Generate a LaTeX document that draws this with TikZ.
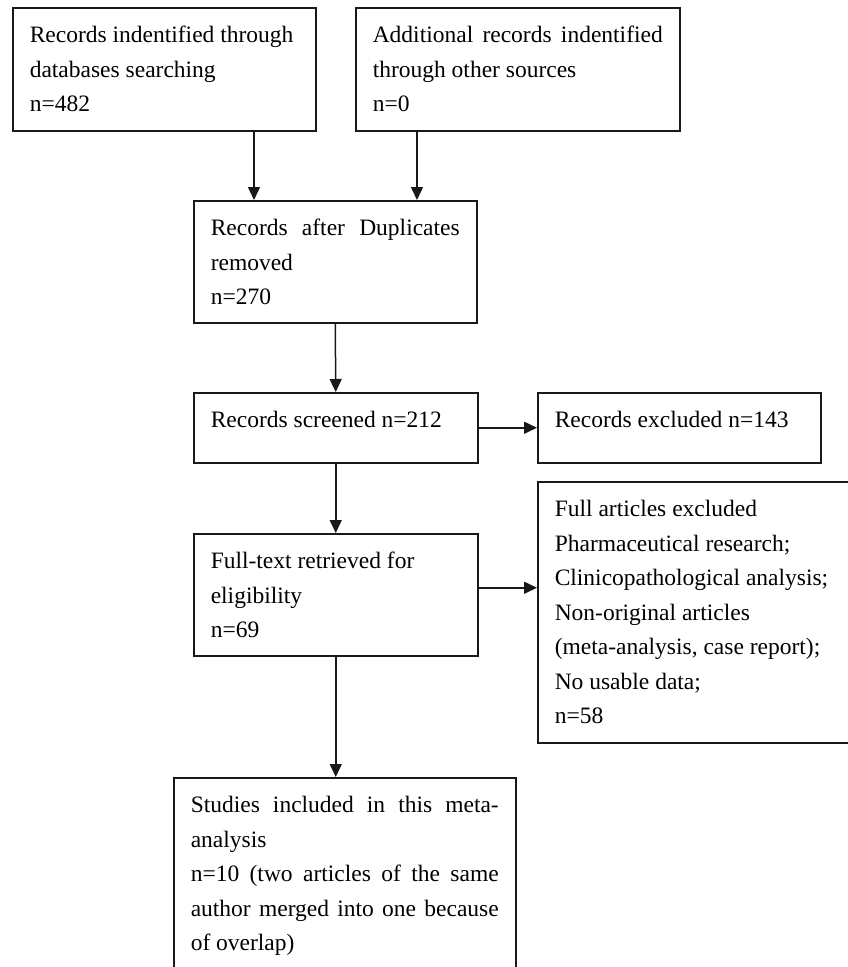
\documentclass[tikz,border=0pt]{standalone}
\usepackage{fontspec}
\setmainfont{Liberation Serif}
\usetikzlibrary{arrows.meta}
\tikzstyle{flowbox}=[draw=black!90, line width=1.5bp, anchor=north west, inner xsep=17bp, inner ysep=0pt, font=\fontsize{23.5bp}{34.5bp}\selectfont]
\tikzstyle{flowarrow}=[draw=black!90, line width=1.5bp, -{Triangle[length=13bp,width=12bp]}]
\newcommand{\boxtext}[3]{\parbox[c][#1][t]{#2}{\rule{0pt}{35bp}#3}}
\begin{document}
\begin{tikzpicture}[x=1bp, y=-1bp]

   \useasboundingbox (0,0) rectangle (848,967);
   \clip (0,0) rectangle (848,967);
   \fill[white] (0,0) rectangle (848,967);

    % identification
    \node[flowbox] (db) at (12,7) {\boxtext{123bp}{269bp}{Records indentified through\\ databases searching\\ n=482}};
    \node[flowbox] (other) at (355,7) {\boxtext{123bp}{290bp}{Additional records indentified\linebreak through other sources\\ n=0}};

    % screening
    \node[flowbox] (dup) at (193,200) {\boxtext{122bp}{249bp}{Records after Duplicates\linebreak removed\\ n=270}};
    \node[flowbox] (screen) at (193,392) {\boxtext{70bp}{250bp}{Records screened n=212}};
    \node[flowbox] (excl) at (537,392) {\boxtext{70bp}{249bp}{Records excluded n=143}};

    % eligibility
    \node[flowbox] (full) at (193,533) {\boxtext{122bp}{250bp}{Full-text retrieved for\\ eligibility\\ n=69}};
    \node[flowbox] (fullex) at (537,481) {\boxtext{261bp}{289bp}{Full articles excluded\\ Pharmaceutical research;\\ Clinicopathological analysis;\\ Non-original articles\\ (meta-analysis, case report);\\ No usable data;\\ n=58}};

    % included
    \node[flowbox] (incl) at (173,777) {\boxtext{215bp}{308bp}{Studies included in this meta-\linebreak analysis\\ n=10 (two articles of the same\linebreak author merged into one because\linebreak of overlap)}};

    % Connect boxes with arrows
    \coordinate (colA) at (254,0);
    \coordinate (colB) at (417,0);
    \draw[flowarrow] (db.south -| colA) -- (dup.north -| colA);
    \draw[flowarrow] (other.south -| colB) -- (dup.north -| colB);
    \foreach \source/ \dest in {dup/screen,screen/full}
        \draw[flowarrow] (\source.south) -- (\dest.north);
    \draw[flowarrow] (screen.east) -- (excl.west);
    \draw[flowarrow] ([yshift=7bp]full.east) -- ([yshift=7bp]full.east -| fullex.west);
    \draw[flowarrow] (full.south) -- (full.south |- incl.north);

\end{tikzpicture}
\end{document}
